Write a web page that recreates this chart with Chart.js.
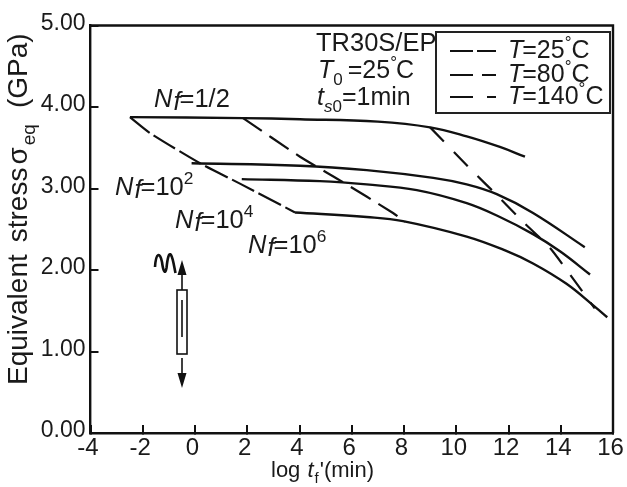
<!DOCTYPE html>
<html>
<head>
<meta charset="utf-8">
<title>Equivalent stress vs log time</title>
<script src="https://cdn.jsdelivr.net/npm/chart.js@4/dist/chart.umd.min.js"></script>
<style>
  html, body { margin: 0; padding: 0; background: #fff; }
  canvas { display: block; }
</style>
</head>
<body>
<canvas id="chart" width="627" height="487"></canvas>
<script>
// values
const xTicks = [-4, -2, 0, 2, 4, 6, 8, 10, 12, 14, 16];
const yTicks = [0, 1, 2, 3, 4, 5];

const nf12X = [-2.49, 1.84, 4.02, 7.0, 9.0, 10.4, 11.67, 12.63];
const nf12Y = [3.876, 3.864, 3.85, 3.82, 3.75, 3.64, 3.51, 3.39];
const nf102X = [-0.13, 4.02, 6.57, 9.12, 10.4, 11.55, 12.94, 14.92];
const nf102Y = [3.31, 3.28, 3.225, 3.13, 3.05, 2.93, 2.70, 2.28];
const nf104X = [1.79, 4.78, 6.57, 8.49, 10.4, 11.67, 12.94, 13.97, 15.12];
const nf104Y = [3.115, 3.09, 3.05, 2.98, 2.82, 2.65, 2.44, 2.23, 1.945];
const nf106X = [3.83, 6.57, 7.96, 10.4, 11.87, 12.94, 14.22, 15.3, 15.78];
const nf106Y = [2.706, 2.65, 2.60, 2.41, 2.24, 2.08, 1.83, 1.55, 1.42];

const t25X = [-2.49, -1.72, 0.19, 1.72, 3.83];
const t25Y = [3.876, 3.68, 3.31, 3.06, 2.706];
const t80X = [1.84, 4.02, 5.55, 7.58, 8.04];
const t80Y = [3.864, 3.39, 3.10, 2.70, 2.59];
const t140X = [9.0, 10.59, 11.55, 12.56, 13.59, 14.42, 15.3];
const t140Y = [3.75, 3.225, 2.92, 2.59, 2.27, 1.915, 1.53];

const dash25 = [25, 5];
const dash80 = [23, 9];
const dash140 = [20, 14];

const FONT = '"Liberation Sans", Arial, sans-serif';

function toPoints(xs, ys) {
  return xs.map((x, i) => ({ x: x, y: ys[i] }));
}

function solid(xs, ys) {
  return { data: toPoints(xs, ys), borderColor: '#111', borderWidth: 2.4, pointRadius: 0, showLine: true, fill: false, tension: 0.4 };
}

function dashed(xs, ys, dash) {
  return { data: toPoints(xs, ys), borderColor: '#111', borderWidth: 2.2, borderDash: dash, pointRadius: 0, showLine: true, fill: false, tension: 0.2 };
}

// draws a row of text pieces, each piece is [text, style, extra gap]
function drawRuns(ctx, x, y, size, runs) {
  let pos = x;
  ctx.textAlign = 'left';
  ctx.textBaseline = 'alphabetic';
  runs.forEach(run => {
    const style = run[1] || '';
    const small = style.includes('sub') || style.includes('sup');
    const s = small ? size * 0.68 : size;
    let dy = 0;
    if (style.includes('sub')) dy = size * 0.28;
    if (style.includes('sup')) dy = -size * 0.42;
    if (style.includes('low')) dy = size * 0.12;
    ctx.font = (style.includes('i') ? 'italic ' : '') + s + 'px ' + FONT;
    ctx.fillStyle = '#1a1a1a';
    ctx.fillText(run[0], pos, y + dy);
    pos += ctx.measureText(run[0]).width + (run[2] || 0);
  });
}

function legendRow(ctx, y, dash, label) {
  ctx.save();
  ctx.strokeStyle = '#111';
  ctx.lineWidth = 2.2;
  ctx.setLineDash(dash);
  ctx.beginPath();
  ctx.moveTo(450, y);
  ctx.lineTo(496, y);
  ctx.stroke();
  ctx.restore();
  drawRuns(ctx, 508, y + 7, 25, label);
}

const notes = {
  id: 'notes',
  afterDraw(chart) {
    const ctx = chart.ctx;
    ctx.save();

    drawRuns(ctx, 316, 51, 25.5, [['TR30S/EP']]);

    // legend box
    ctx.strokeStyle = '#222';
    ctx.lineWidth = 2;
    ctx.fillStyle = '#fff';
    ctx.fillRect(436, 32, 174, 81);
    ctx.strokeRect(436, 32, 174, 81);
    legendRow(ctx, 51, [23, 4, 19, 100], [['T', 'i', -1], ['=25'], ['°', 'sup', 0], ['C']]);
    legendRow(ctx, 75, [23, 9, 14, 100], [['T', 'i', -1], ['=80'], ['°', 'sup', 0], ['C']]);
    legendRow(ctx, 97, [23, 14, 9, 100], [['T', 'i', -1], ['=140'], ['°', 'sup', 0], ['C']]);

    // material and test conditions
    drawRuns(ctx, 318, 78, 25, [['T', 'i', 0], ['0', 'sub', 5], ['=25'], ['°', 'sup', -1], ['C']]);
    drawRuns(ctx, 317, 105, 25, [['t', 'i'], ['s', 'i sub'], ['0', 'sub'], ['=1min']]);

    // curve labels
    drawRuns(ctx, 154, 107, 25.5, [['N', 'i', 1], ['f', 'i low', -1], ['=1/2']]);
    drawRuns(ctx, 115, 195, 25.5, [['N', 'i', 1], ['f', 'i low', -1], ['=10'], ['2', 'sup']]);
    drawRuns(ctx, 175, 228, 25.5, [['N', 'i', 1], ['f', 'i low', -1], ['=10'], ['4', 'sup']]);
    drawRuns(ctx, 248, 253, 25.5, [['N', 'i', 1], ['f', 'i low', -1], ['=10'], ['6', 'sup']]);

    // axis titles
    drawRuns(ctx, 271, 477, 22, [['log ', '', 1], ['t', 'i', 1], ['f', 'sub', 1], ["'(min)"]]);
    ctx.save();
    ctx.translate(27, 385);
    ctx.rotate(-Math.PI / 2);
    drawRuns(ctx, 0, 0, 28, [['Equivalent', '', 12], ['stress', '', 3], ['σ', '', 2], ['eq', 'sub', 16], ['(GPa)']]);
    ctx.restore();

    // specimen sketch
    ctx.strokeStyle = '#111';
    ctx.fillStyle = '#111';
    ctx.lineWidth = 1.6;
    ctx.strokeRect(177, 290, 10, 64);
    ctx.beginPath();
    ctx.moveTo(182, 300); ctx.lineTo(182, 337);
    ctx.moveTo(182, 290); ctx.lineTo(182, 272);
    ctx.moveTo(182, 358); ctx.lineTo(182, 375);
    ctx.stroke();
    ctx.beginPath();
    ctx.moveTo(182, 260); ctx.lineTo(186.5, 275); ctx.lineTo(177.5, 275); ctx.closePath();
    ctx.moveTo(182, 388); ctx.lineTo(186.5, 373); ctx.lineTo(177.5, 373); ctx.closePath();
    ctx.fill();
    // wave next to the arrow
    ctx.lineWidth = 2.6;
    ctx.beginPath();
    ctx.moveTo(155, 267);
    ctx.bezierCurveTo(156, 252, 160, 252, 162, 262);
    ctx.bezierCurveTo(163, 270, 165, 276, 166.5, 268);
    ctx.bezierCurveTo(167.5, 258, 169, 252, 171, 255);
    ctx.bezierCurveTo(173, 258, 174, 266, 175.5, 273);
    ctx.stroke();
    ctx.restore();
  }
};

new Chart(document.getElementById('chart'), {
  type: 'scatter',
  data: {
    datasets: [
      solid(nf12X, nf12Y),
      solid(nf102X, nf102Y),
      solid(nf104X, nf104Y),
      solid(nf106X, nf106Y),
      dashed(t25X, t25Y, dash25),
      dashed(t80X, t80Y, dash80),
      dashed(t140X, t140Y, dash140)
    ]
  },
  options: {
    responsive: false,
    animation: false,
    layout: { padding: { top: 25.5, right: 14, left: 0, bottom: 0 } },
    plugins: { legend: { display: false }, tooltip: { enabled: false } },
    scales: {
      x: {
        type: 'linear',
        min: -4,
        max: 16,
        afterFit: s => { s.height = 487 - 433; s.paddingLeft = 0; s.paddingRight = 0; },
        afterBuildTicks: s => { s.ticks = xTicks.map(v => ({ value: v })); },
        border: { color: '#111', width: 2.4 },
        grid: { drawOnChartArea: false, color: '#111', lineWidth: 2, tickLength: -8 },
        ticks: { color: '#1a1a1a', font: { family: FONT, size: 24 }, padding: 9, labelOffset: -2.5, maxRotation: 0 }
      },
      y: {
        type: 'linear',
        min: 0,
        max: 5,
        afterFit: s => { s.width = 90.5; s.paddingTop = 0; s.paddingBottom = 0; },
        afterBuildTicks: s => { s.ticks = yTicks.map(v => ({ value: v })); },
        border: { color: '#111', width: 2.4 },
        grid: { drawOnChartArea: false, color: '#111', lineWidth: 2, tickLength: -8 },
        ticks: { color: '#1a1a1a', font: { family: FONT, size: 23 }, padding: 13, labelOffset: -2, callback: v => v.toFixed(2) }
      }
    }
  },
  plugins: [notes, {
    id: 'frame',
    afterDatasetsDraw(chart) {
      const a = chart.chartArea, ctx = chart.ctx;
      ctx.save();
      ctx.strokeStyle = '#111';
      ctx.lineWidth = 2.4;
      ctx.beginPath();
      ctx.moveTo(a.left, a.top);
      ctx.lineTo(a.right, a.top);
      ctx.lineTo(a.right, a.bottom);
      ctx.stroke();
      ctx.restore();
    }
  }]
});
</script>
</body>
</html>
